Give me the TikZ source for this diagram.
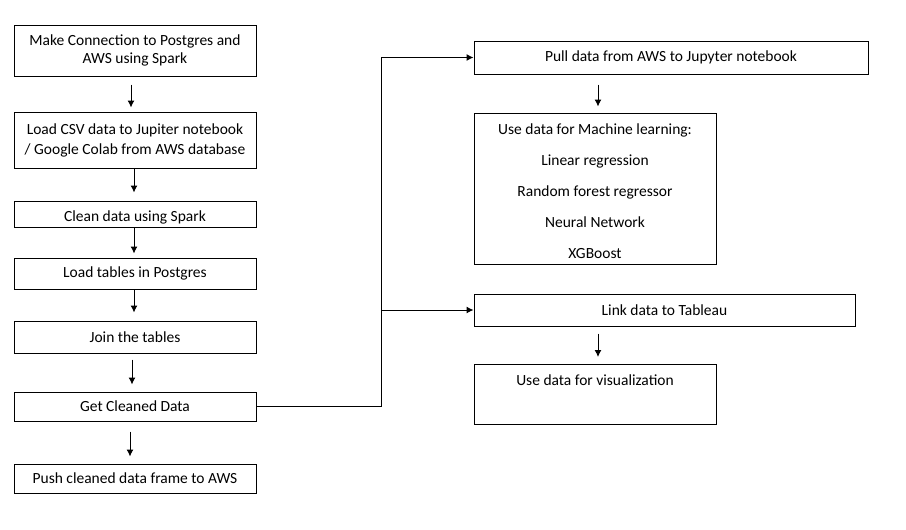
\documentclass[tikz,border=0pt]{standalone}
\usepackage{fontspec}
\setmainfont{Carlito}
\usetikzlibrary{arrows.meta}

\begin{document}
\begin{tikzpicture}[
        x = 1pt,
        y = -1pt,
        line width = 1pt,
        font = \fontsize{15.5}{18}\selectfont,
        box/.style = {draw, inner xsep = 0, inner ysep = 0, minimum width = 242pt, align = center},
        flow/.style = {-{Latex[length = 7pt, width = 7pt]}}
    ]
        \useasboundingbox (0, 0) rectangle (906, 530);

        % left column
        \node[box, minimum height = 51pt] (connect) at (135, 50.5) {Make Connection to Postgres and\\AWS using Spark};
        \node[box, minimum height = 56pt, font = \fontsize{15.5}{20}\selectfont] (load) at (135, 140) {Load CSV data to Jupiter notebook\\/ Google Colab from AWS database};
        \node[box, text height = 20pt, text depth = 6pt] (clean) at (135, 214) {Clean data using Spark};
        \node[box, minimum height = 31pt] (tables) at (135, 273.5) {Load tables in Postgres};
        \node[box, minimum height = 32pt] (join) at (135, 337) {Join the tables};
        \node[box, minimum height = 29pt] (cleaned) at (135, 406.5) {Get Cleaned Data};
        \node[box, minimum height = 29pt] (push) at (135, 478.5) {Push cleaned data frame to AWS};

        \draw[flow, shorten < = 8pt, shorten > = 4pt] ([xshift = -4pt]connect.south) -- ([xshift = -4pt]load.north);
        \draw[flow, shorten > = 8pt] ([xshift = -1pt]load.south) -- ([xshift = -1pt]clean.north);
        \draw[flow, shorten > = 4pt] ([xshift = -1pt]clean.south) -- ([xshift = -1pt]tables.north);
        \draw[flow, shorten > = 8pt] ([xshift = -1pt]tables.south) -- ([xshift = -1pt]join.north);
        \draw[flow, shorten < = 6pt, shorten > = 7pt] ([xshift = -3pt]join.south) -- ([xshift = -3pt]cleaned.north);
        \draw[flow, shorten < = 10pt, shorten > = 7pt] ([xshift = -5pt]cleaned.south) -- ([xshift = -5pt]push.north);

        % right column
        \node[box, minimum width = 394pt, minimum height = 33pt] (pull) at (671, 57.5) {Pull data from AWS to Jupyter notebook};
        \node[box, minimum height = 151pt, font = \fontsize{15.5}{31}\selectfont] (ml) at (595, 188.5) {\rule{0pt}{17pt}Use data for Machine learning:\\Linear regression\\Random forest regressor\\Neural Network\\XGBoost};
        \node[box, minimum width = 381pt, minimum height = 32pt] (tableau) at (664.5, 310) {Link data to Tableau};
        \node[box, text height = 21pt, text depth = 39pt] (visual) at (595, 364) [anchor = north] {Use data for visualization};

        \draw[flow, shorten < = 10pt, shorten > = 6pt] ([xshift = 3pt]ml.north |- pull.south) -- ([xshift = 3pt]ml.north);
        \draw[flow, shorten < = 7pt, shorten > = 7pt] ([xshift = 3pt]visual.north |- tableau.south) -- ([xshift = 3pt]visual.north);

        % branch to the right
        \coordinate (split) at (381, 0);
        \draw[flow] (cleaned.east) -- (cleaned.east -| split) |- (pull.west);
        \draw[flow] (split |- tableau.west) -- (tableau.west);
    \end{tikzpicture}
\end{document}
